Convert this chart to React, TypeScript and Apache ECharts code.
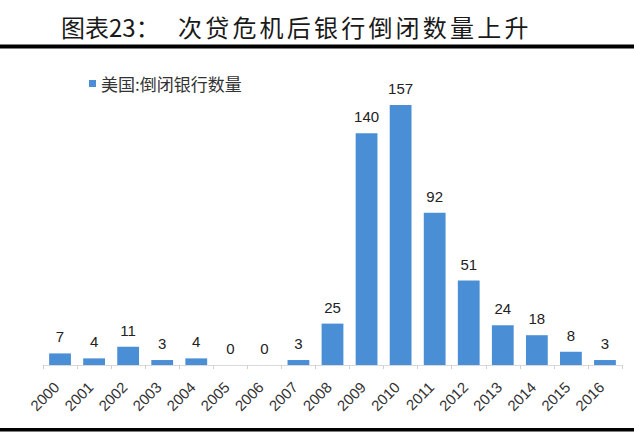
import React, { useEffect, useRef } from "react";
import * as echarts from "echarts";

const years = ["2000","2001","2002","2003","2004","2005","2006","2007","2008","2009","2010","2011","2012","2013","2014","2015","2016"];
const failedBanks = [7, 4, 11, 3, 4, 0, 0, 3, 25, 140, 157, 92, 51, 24, 18, 8, 3];
const seriesName = "美国:倒闭银行数量";
const titleA = "图表23：";
const titleB = "次贷危机后银行倒闭数量上升";

export default function App() {
  const ref = useRef<HTMLDivElement>(null);
  useEffect(() => {
    const chart = echarts.init(ref.current!, null, { renderer: "svg" });
    const titleFont = "24px 'Noto Sans CJK SC'";
    const titleChars = Array.from(titleB).map((ch, i) => ({
      type: "text",
      x: 178 + i * 27.2,
      y: 14,
      style: { text: ch, font: titleFont, fill: "#1a1a1a" },
    }));
    chart.setOption({
      animation: false,
      backgroundColor: "#ffffff",
      grid: { left: 43, right: 12, top: 67, bottom: 68, containLabel: false },
      legend: {
        show: true,
        left: 84,
        top: 70,
        itemWidth: 7,
        itemHeight: 7,
        icon: "rect",
        itemGap: 4,
        textStyle: { fontFamily: "Noto Sans CJK SC", fontSize: 17, color: "#333" },
        data: [seriesName],
      },
      xAxis: {
        type: "category",
        data: years,
        axisLine: { lineStyle: { color: "#d9d9d9", width: 1 } },
        axisTick: { show: true, length: 4, lineStyle: { color: "#d0d0d0" } },
        axisLabel: {
          rotate: 45,
          margin: 16,
          padding: [0, 5, 0, 0],
          interval: 0,
          fontFamily: "Liberation Sans",
          fontSize: 15,
          color: "#333",
        },
      },
      yAxis: {
        type: "value",
        min: 0,
        max: 180,
        show: false,
        splitLine: { show: false },
      },
      series: [
        {
          name: seriesName,
          type: "bar",
          data: failedBanks,
          barCategoryGap: "36%",
          itemStyle: { color: "#4a8fd6" },
          label: {
            show: true,
            position: "top",
            distance: 9,
            fontFamily: "Liberation Sans",
            fontSize: 15,
            color: "#222",
          },
        },
      ],
      graphic: [
        { type: "text", x: 61, y: 14, style: { text: titleA, font: titleFont, fill: "#1a1a1a" } },
        ...titleChars,
        { type: "rect", shape: { x: 0, y: 44.5, width: 634, height: 4 }, style: { fill: "#000" } },
        { type: "rect", shape: { x: 0, y: 428, width: 634, height: 3.5 }, style: { fill: "#000" } },
      ],
    });
    return () => chart.dispose();
  }, []);
  return <div ref={ref} style={{ position: "fixed", left: 0, top: 0, width: 634, height: 433 }} />;
}
